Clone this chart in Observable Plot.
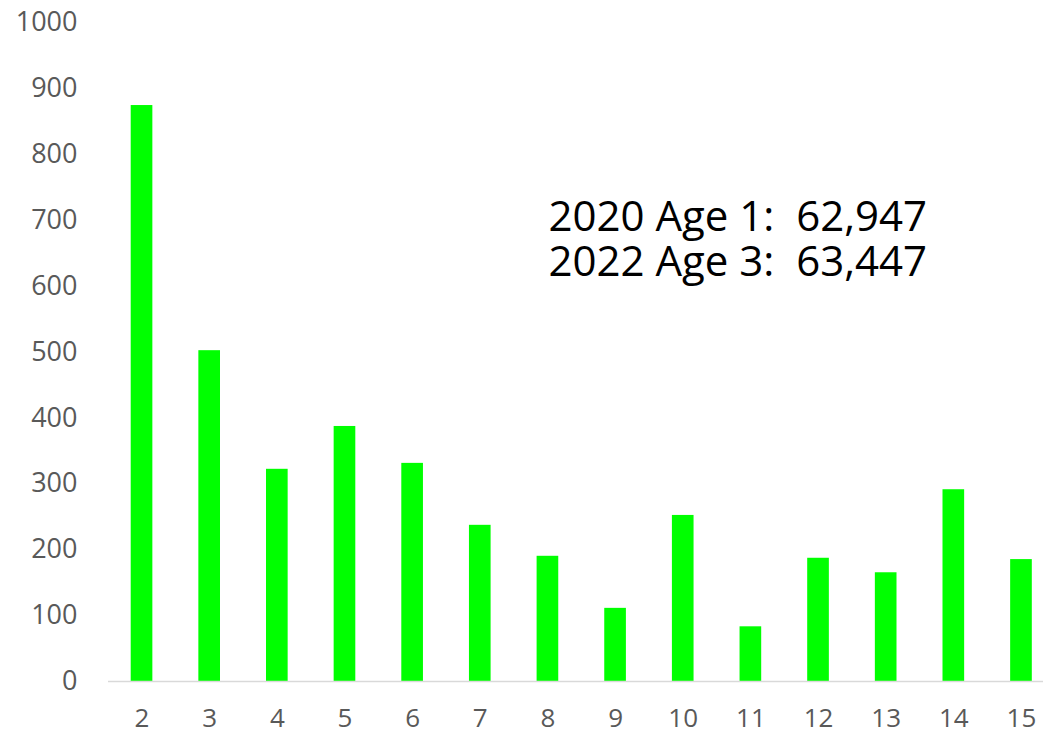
<!DOCTYPE html>
<html>
<head>
<meta charset="utf-8">
<script src="https://cdn.jsdelivr.net/npm/d3@7"></script>
<script src="https://cdn.jsdelivr.net/npm/@observablehq/plot@0.6"></script>
<style>
  body { margin: 0; background: #fff; }
  #chart svg { display: block; }
</style>
</head>
<body>
<div id="chart"></div>
<script>
const categories = ["2","3","4","5","6","7","8","9","10","11","12","13","14","15"];
const values = [874, 502, 322, 387, 331, 237, 190, 111, 252, 83, 187, 165, 291, 185];
const yTicks = [0,100,200,300,400,500,600,700,800,900,1000];
const annotationLines = ["2020 Age 1:  62,947", "2022 Age 3:  63,447"];

const data = categories.map((c, i) => ({ cat: c, value: values[i] }));

const chart = Plot.plot({
  width: 1043,
  height: 734,
  marginLeft: 108,
  marginRight: 0,
  marginTop: 22,
  marginBottom: 53,
  style: { fontFamily: "'Open Sans', sans-serif", background: "#fff" },
  x: { domain: categories, padding: 0, round: false, range: [107.7, 1054.8], label: null },
  y: { domain: [0, 1000], label: null },
  marks: [
    Plot.barY(data, { x: "cat", y: "value", fill: "#00ff00", insetLeft: 23, insetRight: 23 }),
    Plot.ruleY([0], { stroke: "#d9d9d9", strokeWidth: 1.5 }),
    Plot.axisY({ ticks: yTicks, tickSize: 0, tickPadding: 31, fontSize: 27, fill: "#595959", label: null, tickFormat: d => String(d) }),
    Plot.axisX({ tickSize: 0, tickPadding: 27, fontSize: 26, fill: "#595959", label: null }),
    Plot.text([annotationLines.join("\n")], {
      frameAnchor: "top-left", dx: 440, dy: 176, textAnchor: "start", lineAnchor: "top",
      fontSize: 42, fill: "#000", lineHeight: 1.08
    })
  ]
});
chart.querySelectorAll("text").forEach(t => t.setAttribute("xml:space", "preserve"));
chart.style.whiteSpace = "pre";
document.getElementById("chart").appendChild(chart);
</script>
</body>
</html>
